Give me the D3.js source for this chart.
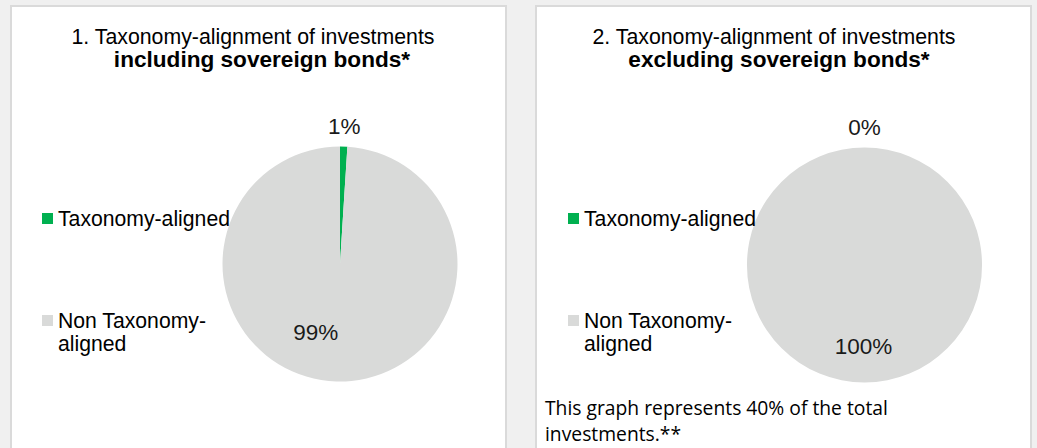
<!DOCTYPE html>
<html>
<head>
<meta charset="utf-8">
<script src="https://cdn.jsdelivr.net/npm/d3@7"></script>
<style>
  html, body { margin: 0; padding: 0; background: #f0f0f0; }
  svg { display: block; }
</style>
</head>
<body>
<svg id="chart" width="1037" height="448"></svg>
<script>
// Categories shared by both pies
const categories = ["Taxonomy-aligned", "Non Taxonomy-aligned"];
// Legend lines (second entry wraps)
const legendLines = [["Taxonomy-aligned"], ["Non Taxonomy-", "aligned"]];
// Shares in percent
const includingSovereign = [1, 99];
const excludingSovereign = [0, 100];
// Titles: regular first line, bold second line
const titleLine1 = ["1. Taxonomy-alignment of investments", "2. Taxonomy-alignment of investments"];
const titleLine2 = ["including sovereign bonds*", "excluding sovereign bonds*"];
const footnoteLines = ["This graph represents 40% of the total", "investments.**"];

const colors = d3.scaleOrdinal().domain(categories).range(["#00b050", "#d9dad9"]);

const svg = d3.select("#chart");
const FONT = "'Liberation Sans', Arial, sans-serif";

// Layout for the two panels
const panels = [
  { x: 11, titleX: 253, title2X: 262, cx: 340, cy: 264, legendX: 42,
    values: includingSovereign, innerNudge: { dx: -22, dy: -4 } },
  { x: 536, titleX: 774, title2X: 779, cx: 864.5, cy: 265, legendX: 568,
    values: excludingSovereign, innerNudge: { dx: -1, dy: 9 } }
];
const panelW = 495, panelH = 470, radius = 117.5;

const pie = d3.pie().sort(null).value(d => d).startAngle(0).endAngle(2 * Math.PI);
const arc = d3.arc().innerRadius(0).outerRadius(radius);
const outerLabelArc = d3.arc().innerRadius(radius + 20).outerRadius(radius + 20);
const innerLabelArc = d3.arc().innerRadius(radius * 0.62).outerRadius(radius * 0.62);

panels.forEach((p, i) => {
  const g = svg.append("g");

  g.append("rect")
    .attr("x", p.x).attr("y", 6)
    .attr("width", panelW).attr("height", panelH)
    .attr("fill", "#ffffff")
    .attr("stroke", "#dadada").attr("stroke-width", 2);

  g.append("text")
    .attr("x", p.titleX).attr("y", 44)
    .attr("text-anchor", "middle")
    .attr("font-family", FONT).attr("font-size", 21.3)
    .attr("fill", "#000")
    .text(titleLine1[i]);

  g.append("text")
    .attr("x", p.title2X).attr("y", 67)
    .attr("text-anchor", "middle")
    .attr("font-family", FONT).attr("font-size", 22.6).attr("font-weight", "bold")
    .attr("fill", "#000")
    .text(titleLine2[i]);

  // Pie
  const arcs = pie(p.values);
  const pg = g.append("g").attr("transform", `translate(${p.cx},${p.cy})`);
  pg.selectAll("path")
    .data(arcs)
    .join("path")
    .attr("d", arc)
    .attr("fill", (d, j) => colors(categories[j]));

  // Data labels: small slice outside the rim, large slice inside
  pg.selectAll("text")
    .data(arcs)
    .join("text")
    .each(function (d) {
      const big = d.data >= 50;
      const [x, y] = big ? innerLabelArc.centroid(d) : outerLabelArc.centroid(d);
      d3.select(this)
        .attr("x", x + (big ? p.innerNudge.dx : 0))
        .attr("y", y + (big ? p.innerNudge.dy : 0));
    })
    .attr("text-anchor", "middle")
    .attr("dominant-baseline", "central")
    .attr("font-family", FONT).attr("font-size", 22.5)
    .attr("fill", "#1a1a1a")
    .text(d => d3.format(".0f")(d.data) + "%");

  // Legend
  const legendY = [218.5, 320.5];
  categories.forEach((c, j) => {
    g.append("rect")
      .attr("x", p.legendX).attr("y", legendY[j] - 5.5)
      .attr("width", 11).attr("height", 11)
      .attr("fill", colors(c));
    const t = g.append("text")
      .attr("font-family", FONT).attr("font-size", 21.2)
      .attr("fill", "#000");
    legendLines[j].forEach((line, k) => {
      t.append("tspan")
        .attr("x", p.legendX + 16)
        .attr("y", legendY[j] + 7 + k * 23)
        .text(line);
    });
  });
});

// Footnote under the second pie
footnoteLines.forEach((line, k) => {
  svg.append("text")
    .attr("x", 545).attr("y", 415 + k * 26)
    .attr("font-family", "'Open Sans', 'Noto Sans', sans-serif")
    .attr("font-size", 19.3)
    .attr("fill", "#000")
    .text(line);
});
</script>
</body>
</html>
